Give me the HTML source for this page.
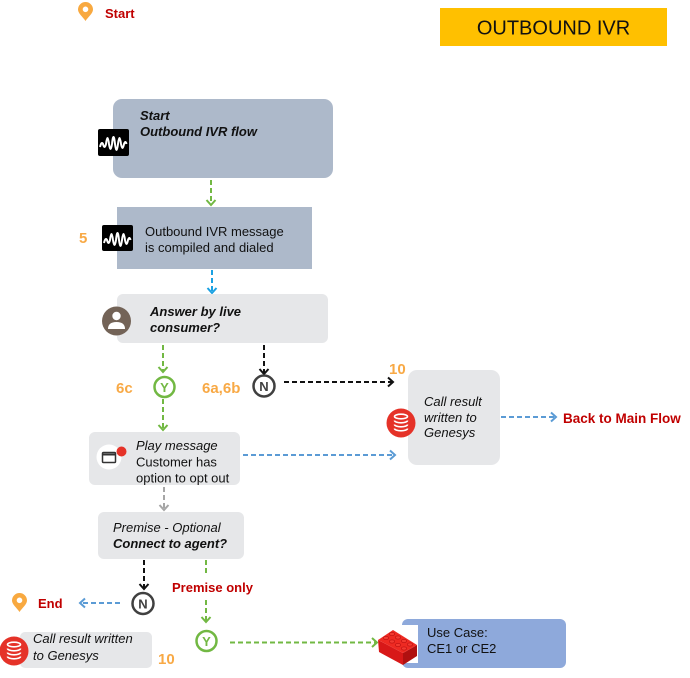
<!DOCTYPE html>
<html>
<head>
<meta charset="utf-8">
<style>
html,body{margin:0;padding:0;background:#fff;}
svg{display:block;}
text{font-family:"Liberation Sans",Arial,sans-serif;}
</style>
</head>
<body>
<svg width="690" height="678" viewBox="0 0 690 678" xmlns="http://www.w3.org/2000/svg">
<rect width="690" height="678" fill="#fff"/>

<!-- Start pin -->
<path d="M85.5,21 C83,17 78,13.5 78,9.5 A7.5,7.5 0 1 1 93,9.5 C93,13.5 88,17 85.5,21 Z" fill="#F8A940"/>
<circle cx="85.5" cy="9.3" r="2.8" fill="#fff"/>
<text x="105" y="18" font-size="13" font-weight="bold" fill="#C00000">Start</text>

<!-- Title -->
<rect x="440" y="8" width="227" height="38" fill="#FFC000"/>
<text x="553.5" y="34.5" font-size="20" text-anchor="middle" fill="#111">OUTBOUND IVR</text>

<!-- Box1 -->
<rect x="113" y="99" width="220" height="79" rx="9" fill="#ADB9CA"/>
<text x="140" y="120" font-size="13" font-weight="bold" font-style="italic" fill="#111">Start</text>
<text x="140" y="136" font-size="13" font-weight="bold" font-style="italic" fill="#111">Outbound IVR flow</text>
<rect x="98" y="129" width="31" height="27" rx="2" fill="#000"/>
<path d="M100,147 q1.5,-6 3,-3 q1.5,6 3,0 q1.5,-12 3,0 q1.5,10 3,0 q1.5,-14 3,0 q1.5,12 3,0 q1.5,-12 3,0 q1.5,8 3,0 q1.5,-4 2.5,0" fill="none" stroke="#fff" stroke-width="2"/>

<!-- green arrow box1->box2 -->
<line x1="211" y1="180" x2="211" y2="205" stroke="#72B843" stroke-width="2" stroke-dasharray="5,3"/>
<polyline points="206.5,200 211,205 215.5,200" fill="none" stroke="#72B843" stroke-width="2"/>

<!-- Box2 -->
<rect x="117" y="207" width="195" height="62" fill="#ADB9CA"/>
<text x="145" y="236" font-size="13" fill="#111">Outbound IVR message</text>
<text x="145" y="252" font-size="13" fill="#111">is compiled and dialed</text>
<rect x="102" y="225" width="31" height="26" rx="2" fill="#000"/>
<path d="M104,243 q1.5,-6 3,-3 q1.5,6 3,0 q1.5,-12 3,0 q1.5,10 3,0 q1.5,-14 3,0 q1.5,12 3,0 q1.5,-12 3,0 q1.5,8 3,0 q1.5,-4 2.5,0" fill="none" stroke="#fff" stroke-width="2"/>
<text x="79" y="243" font-size="15" font-weight="bold" fill="#F8A945">5</text>

<!-- blue arrow box2->box3 -->
<line x1="212" y1="270" x2="212" y2="293" stroke="#1BA1E2" stroke-width="2" stroke-dasharray="5,3"/>
<polyline points="207.5,288 212,293 216.5,288" fill="none" stroke="#1BA1E2" stroke-width="2"/>

<!-- Box3 -->
<rect x="117" y="294" width="211" height="49" rx="6" fill="#E6E7E9"/>
<text x="150" y="316" font-size="13" font-weight="bold" font-style="italic" fill="#111">Answer by live</text>
<text x="150" y="332" font-size="13" font-weight="bold" font-style="italic" fill="#111">consumer?</text>
<circle cx="116.5" cy="321" r="14.5" fill="#736357"/>
<circle cx="116.5" cy="316" r="4.2" fill="#fff"/>
<path d="M108,329 q0,-7 8.5,-7 q8.5,0 8.5,7 z" fill="#fff"/>

<!-- green arrow box3->Y -->
<line x1="163" y1="345" x2="163" y2="372" stroke="#72B843" stroke-width="2" stroke-dasharray="5,3"/>
<polyline points="158.5,367 163,372 167.5,367" fill="none" stroke="#72B843" stroke-width="2"/>
<circle cx="164.5" cy="387" r="10" fill="#fff" stroke="#72B843" stroke-width="2.5"/>
<text x="164.5" y="392" font-size="13" font-weight="bold" text-anchor="middle" fill="#72B843">Y</text>
<text x="116" y="393" font-size="15" font-weight="bold" fill="#F8A945">6c</text>
<!-- green Y->box5 -->
<line x1="163" y1="399" x2="163" y2="430" stroke="#72B843" stroke-width="2" stroke-dasharray="5,3"/>
<polyline points="158.5,425 163,430 167.5,425" fill="none" stroke="#72B843" stroke-width="2"/>

<!-- black arrow box3->N -->
<line x1="264" y1="345" x2="264" y2="374" stroke="#111" stroke-width="2" stroke-dasharray="5,3"/>
<polyline points="259.5,369 264,374 268.5,369" fill="none" stroke="#111" stroke-width="2"/>
<circle cx="264" cy="386" r="10.5" fill="#fff" stroke="#404040" stroke-width="2.5"/>
<text x="264" y="391" font-size="13" font-weight="bold" text-anchor="middle" fill="#404040">N</text>
<text x="202" y="393" font-size="15" font-weight="bold" fill="#F8A945">6a,6b</text>
<!-- black N->box4 -->
<line x1="284" y1="382" x2="393" y2="382" stroke="#111" stroke-width="2" stroke-dasharray="5,3"/>
<polyline points="388,377.5 393,382 388,386.5" fill="none" stroke="#111" stroke-width="2"/>
<text x="389" y="374" font-size="15" font-weight="bold" fill="#F8A945">10</text>

<!-- Box4 -->
<rect x="408" y="370" width="92" height="95" rx="9" fill="#E6E7E9"/>
<text x="424" y="406" font-size="13" font-style="italic" fill="#111">Call result</text>
<text x="424" y="422" font-size="13" font-style="italic" fill="#111">written to</text>
<text x="424" y="437" font-size="13" font-style="italic" fill="#111">Genesys</text>
<circle cx="401" cy="423" r="14.5" fill="#E53228"/>
<g fill="none" stroke="#fff" stroke-width="1.6">
<ellipse cx="401" cy="416.5" rx="6.5" ry="2.3"/>
<path d="M394.5,420.5 a6.5,2.3 0 0 0 13,0"/>
<path d="M394.5,424.5 a6.5,2.3 0 0 0 13,0"/>
<path d="M394.5,428.5 a6.5,2.3 0 0 0 13,0"/>
</g>

<!-- blue box4->Back -->
<line x1="501" y1="417" x2="556" y2="417" stroke="#5B9BD5" stroke-width="2" stroke-dasharray="5,3"/>
<polyline points="551,412.5 556,417 551,421.5" fill="none" stroke="#5B9BD5" stroke-width="2"/>
<text x="563" y="423" font-size="13.5" font-weight="bold" fill="#C00000">Back to Main Flow</text>

<!-- Box5 -->
<rect x="89" y="432" width="151" height="53" rx="6" fill="#E6E7E9"/>
<text x="136" y="450" font-size="13" font-style="italic" fill="#111">Play message</text>
<text x="136" y="466.5" font-size="13" fill="#111">Customer has</text>
<text x="136" y="482.5" font-size="13" fill="#111">option to opt out</text>
<circle cx="109" cy="457" r="12.5" fill="#fff"/>
<rect x="102.5" y="452.5" width="13" height="10" rx="1" fill="none" stroke="#333" stroke-width="1.5"/>
<line x1="102.5" y1="454.5" x2="115.5" y2="454.5" stroke="#333" stroke-width="2"/>
<circle cx="121.5" cy="451.5" r="5" fill="#E53228"/>

<!-- blue box5->box4 -->
<line x1="243" y1="455" x2="395" y2="455" stroke="#5B9BD5" stroke-width="2" stroke-dasharray="5,3"/>
<polyline points="390,450.5 395,455 390,459.5" fill="none" stroke="#5B9BD5" stroke-width="2"/>

<!-- grey box5->box6 -->
<line x1="164" y1="487" x2="164" y2="510" stroke="#A6A6A6" stroke-width="2" stroke-dasharray="5,3"/>
<polyline points="159.5,505 164,510 168.5,505" fill="none" stroke="#A6A6A6" stroke-width="2"/>

<!-- Box6 -->
<rect x="98" y="512" width="146" height="47" rx="6" fill="#E6E7E9"/>
<text x="113" y="532" font-size="13" font-style="italic" fill="#111">Premise - Optional</text>
<text x="113" y="548" font-size="13" font-weight="bold" font-style="italic" fill="#111">Connect to agent?</text>

<!-- black box6->N -->
<line x1="144" y1="560" x2="144" y2="589" stroke="#111" stroke-width="2" stroke-dasharray="5,3"/>
<polyline points="139.5,584 144,589 148.5,584" fill="none" stroke="#111" stroke-width="2"/>
<circle cx="143" cy="603.5" r="10.5" fill="#fff" stroke="#404040" stroke-width="2.5"/>
<text x="143" y="608.5" font-size="13" font-weight="bold" text-anchor="middle" fill="#404040">N</text>

<!-- blue N->End -->
<line x1="120" y1="603" x2="80" y2="603" stroke="#5B9BD5" stroke-width="2" stroke-dasharray="5,3"/>
<polyline points="85,598.5 80,603 85,607.5" fill="none" stroke="#5B9BD5" stroke-width="2"/>
<path d="M19.5,612 C17,608 12,604.5 12,600.5 A7.5,7.5 0 1 1 27,600.5 C27,604.5 22,608 19.5,612 Z" fill="#F8A940"/>
<circle cx="19.5" cy="600.3" r="2.8" fill="#fff"/>
<text x="38" y="608" font-size="13" font-weight="bold" fill="#C00000">End</text>

<!-- green box6 -> premise only -> Y -->
<line x1="206" y1="560" x2="206" y2="574" stroke="#72B843" stroke-width="2" stroke-dasharray="5,3"/>
<text x="172" y="592" font-size="13" font-weight="bold" fill="#C00000">Premise only</text>
<line x1="206" y1="600" x2="206" y2="622" stroke="#72B843" stroke-width="2" stroke-dasharray="5,3"/>
<polyline points="201.5,617 206,622 210.5,617" fill="none" stroke="#72B843" stroke-width="2"/>
<circle cx="206.5" cy="641" r="10" fill="#fff" stroke="#72B843" stroke-width="2.5"/>
<text x="206.5" y="646" font-size="13" font-weight="bold" text-anchor="middle" fill="#72B843">Y</text>

<!-- green Y->lego -->
<line x1="230" y1="642.5" x2="377" y2="642.5" stroke="#72B843" stroke-width="2" stroke-dasharray="5,3"/>
<polyline points="372,638 377,642.5 372,647" fill="none" stroke="#72B843" stroke-width="2"/>

<!-- Bottom-left box -->
<rect x="20" y="632" width="132" height="36" rx="5" fill="#E6E7E9"/>
<text x="33" y="643" font-size="13" font-style="italic" fill="#111">Call result written</text>
<text x="33" y="660" font-size="13" font-style="italic" fill="#111">to Genesys</text>
<circle cx="14" cy="651" r="14.5" fill="#E53228"/>
<g fill="none" stroke="#fff" stroke-width="1.6">
<ellipse cx="14" cy="644.5" rx="6.5" ry="2.3"/>
<path d="M7.5,648.5 a6.5,2.3 0 0 0 13,0"/>
<path d="M7.5,652.5 a6.5,2.3 0 0 0 13,0"/>
<path d="M7.5,656.5 a6.5,2.3 0 0 0 13,0"/>
</g>
<text x="158" y="664" font-size="15" font-weight="bold" fill="#F8A945">10</text>

<!-- Box7 -->
<rect x="402" y="619" width="164" height="49" rx="6" fill="#8EA9DB"/>
<rect x="402" y="625" width="16" height="38" fill="#fff"/>
<text x="427" y="637" font-size="13" fill="#111">Use Case:</text>
<text x="427" y="653" font-size="13" fill="#111">CE1 or CE2</text>

<!-- Lego brick -->
<polygon points="378,640 379,652 403,665 403,653" fill="#D81818"/>
<polygon points="403,653 403,665 417,656 417,645" fill="#B01010"/>
<polygon points="378,640 393,630 417,645 403,653" fill="#EE2A22"/>
<g fill="#F23A30" stroke="#C41414" stroke-width="0.8">
<ellipse cx="386" cy="638" rx="2.6" ry="1.6"/>
<ellipse cx="392" cy="641.5" rx="2.6" ry="1.6"/>
<ellipse cx="398" cy="645" rx="2.6" ry="1.6"/>
<ellipse cx="404" cy="648.5" rx="2.6" ry="1.6"/>
<ellipse cx="392" cy="634" rx="2.6" ry="1.6"/>
<ellipse cx="398" cy="637.5" rx="2.6" ry="1.6"/>
<ellipse cx="404" cy="641" rx="2.6" ry="1.6"/>
<ellipse cx="410" cy="644.5" rx="2.6" ry="1.6"/>
</g>
</svg>
</body>
</html>
